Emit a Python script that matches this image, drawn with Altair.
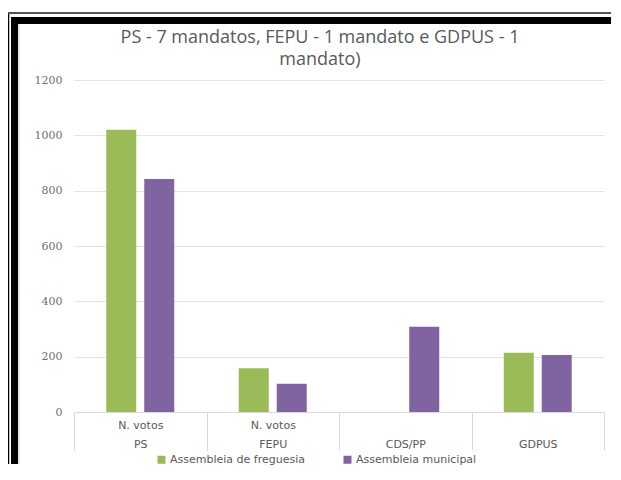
import altair as alt
import pandas as pd

categories = ["PS", "FEPU", "CDS/PP", "GDPUS"]
top_labels = ["N. votos", "N. votos", "", ""]
series = ["Assembleia de freguesia", "Assembleia municipal"]
freguesia = [1020, 158, None, 214]
municipal = [842, 102, 308, 206]
colors = ["#9BBB59", "#8064A2"]
y_ticks = [0, 200, 400, 600, 800, 1000, 1200]
title_lines = ["PS - 7 mandatos, FEPU - 1 mandato e GDPUS - 1", "mandato)"]

rows = []
for c, f, m in zip(categories, freguesia, municipal):
    if f is not None:
        rows.append({"cat": c, "serie": series[0], "votos": f})
    if m is not None:
        rows.append({"cat": c, "serie": series[1], "votos": m})
df = pd.DataFrame(rows)

expr = "['', datum.value]"
for c, t in zip(reversed(categories), reversed(top_labels)):
    expr = f"datum.value == '{c}' ? ['{t}', '{c}'] : ({expr})"

GRAY = "#595959"

bars = alt.Chart(df).mark_bar().encode(
    x=alt.X(
        "cat:N", sort=categories,
        scale=alt.Scale(paddingInner=0, paddingOuter=0),
        axis=alt.Axis(
            title=None, labelAngle=0, labelExpr=expr,
            tickBand="extent", tickSize=38, tickColor="#d9d9d9",
            domainColor="#d9d9d9", labelPadding=-31, labelLineHeight=19,
            labelFont="DejaVu Sans", labelFontSize=11, labelColor=GRAY,
            labelBaseline="top",
        ),
    ),
    xOffset=alt.XOffset(
        "serie:N", sort=series,
        scale=alt.Scale(domain=series, paddingInner=0.21, paddingOuter=0.85),
    ),
    y=alt.Y(
        "votos:Q",
        scale=alt.Scale(domain=[0, 1200]),
        axis=alt.Axis(
            title=None, values=y_ticks, format="d", domain=False, ticks=False,
            gridColor="#e3e3e3", labelPadding=12,
            labelFont="DejaVu Serif", labelFontSize=11, labelColor="#6f6f6f",
        ),
    ),
    color=alt.Color(
        "serie:N",
        scale=alt.Scale(domain=series, range=colors),
        legend=alt.Legend(
            title=None, orient="none", legendX=82, legendY=374,
            direction="horizontal", symbolType="square", symbolSize=64,
            symbolStrokeWidth=0,
            labelFont="DejaVu Sans", labelFontSize=11, labelColor=GRAY,
            columnPadding=37, labelOffset=3,
        ),
    ),
)

title = alt.Chart(alt.Data(values=[{}])).mark_text(
    font="Open Sans", fontSize=18, color=GRAY, align="center",
    baseline="alphabetic", lineHeight=22,
).encode(
    x=alt.value(246), y=alt.value(-37), text=alt.value(title_lines)
)

def hline(y, x1, x2, w, color="black"):
    return alt.Chart(alt.Data(values=[{}])).mark_rule(
        color=color, strokeWidth=w, strokeCap="butt"
    ).encode(x=alt.value(x1), x2=alt.value(x2), y=alt.value(y))

def vline(x, y1, y2, w, color="black"):
    return alt.Chart(alt.Data(values=[{}])).mark_rule(
        color=color, strokeWidth=w, strokeCap="butt"
    ).encode(x=alt.value(x), y=alt.value(y1), y2=alt.value(y2))

frames = [
    vline(-65.5, -68, 384, 1.5),
    vline(-59.5, -63, 384, 7),
    vline(-55, -56, 384, 2, "#e6e6e6"),
    hline(-67, -66, 537, 2, "#555555"),
    hline(-59.5, -63, 537, 7),
]

chart = alt.layer(bars, title, *frames).properties(
    width=530,
    height=332,
    autosize="none",
    padding={"left": 66, "top": 72, "right": 8, "bottom": 54},
    background="white",
).configure_view(stroke=None)

chart.save("out.html", embed_options={"renderer": "svg", "actions": False})
